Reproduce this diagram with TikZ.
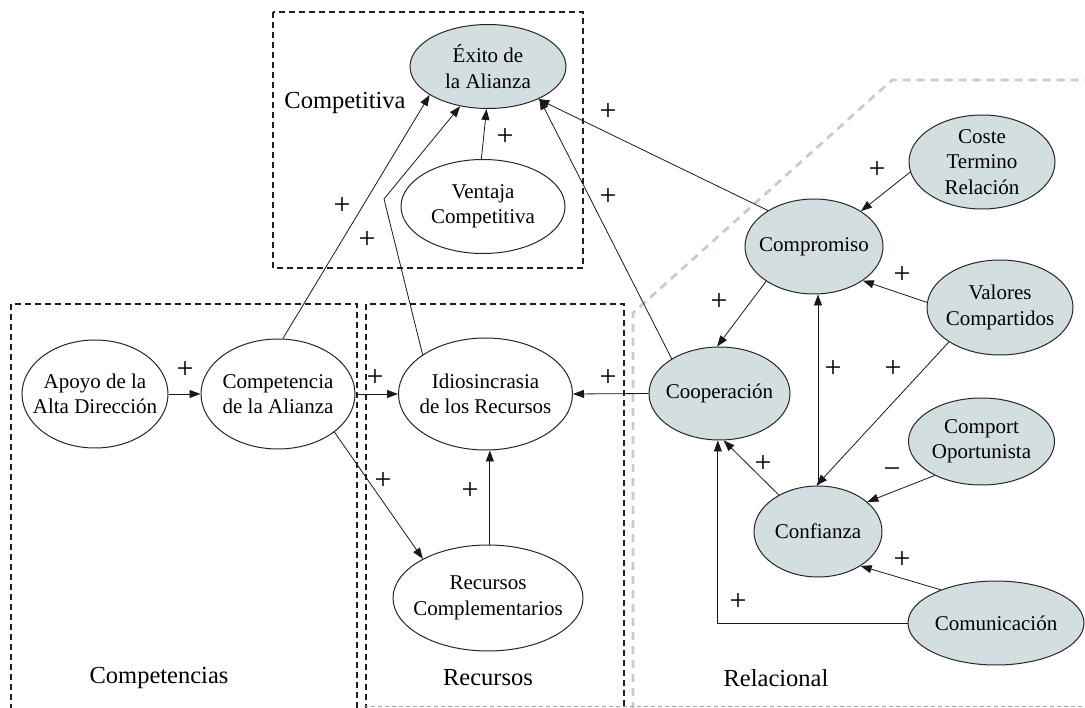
\documentclass[tikz,border=0pt]{standalone}
\usepackage{fontspec}
\setmainfont{Liberation Serif}
\usetikzlibrary{shapes.geometric,arrows.meta}
\definecolor{nodefill}{HTML}{D3DEE0}
\definecolor{regiongrey}{HTML}{BFD0D0}
\definecolor{boxblack}{HTML}{1E1E1E}
\begin{document}
\begin{tikzpicture}[x=1pt,y=-1pt,
  ellbase/.style={ellipse,draw=black!85,line width=1pt,inner xsep=-12pt,inner ysep=-4pt,align=center,font=\fontsize{21}{25.5}\selectfont},
  ellgrey/.style={ellbase,fill=nodefill},
  ellwhite/.style={ellbase,fill=white},
  arr/.style={-{Triangle[length=11pt,width=8pt]},line width=0.8pt,draw=black!90},
  signlbl/.style={font=\fontsize{30}{30}\selectfont,inner sep=0pt},
  regionlbl/.style={font=\fontsize{24.5}{28}\selectfont,inner sep=0pt},
  bbox/.style={draw=boxblack,line width=2.2pt,dash pattern=on 6pt off 4pt},
  gbox/.style={draw=regiongrey,line width=2.8pt,dash pattern=on 8pt off 6pt},
  gthin/.style={draw=black!35,line width=0.7pt,dash pattern=on 4pt off 3pt}
]
\useasboundingbox (0,0) rectangle (1085,708);

% region boxes
\draw[bbox] (273,12) rectangle (583,268);
\draw[bbox] (11,710) -- (11,304) -- (357,304) -- (357,710);
\draw[bbox] (366,710) -- (366,304) -- (624,304) -- (624,710);
\draw[gbox] (633,710) -- (633,313) -- (892,80) -- (1090,80);
\draw[gthin] (364,706) -- (1085,706);

% region labels
\node[regionlbl] (lcompetitiva) at (345,103) {Competitiva};
\node[regionlbl] (lcompetencias) at (159,678) {Competencias};
\node[regionlbl] (lrecursos) at (488,678) {Recursos};
\node[regionlbl] (lrelacional) at (776,678) {Relacional};

% nodes
\node[ellgrey,minimum width=156pt,minimum height=84pt] (exito) at (488,66.5) {Éxito de\\la Alianza};
\node[ellwhite,minimum width=164pt,minimum height=94pt] (ventaja) at (483,206.5) {Ventaja\\Competitiva};
\node[ellwhite,minimum width=146pt,minimum height=108pt] (apoyo) at (95,394) {Apoyo de la\\Alta Dirección};
\node[ellwhite,minimum width=154pt,minimum height=110pt] (compet) at (278,394) {Competencia\\de la Alianza};
\node[ellwhite,minimum width=174pt,minimum height=112pt] (idio) at (485.5,394) {Idiosincrasia\\de los Recursos};
\node[ellwhite,minimum width=190pt,minimum height=106pt] (recursos) at (488,598) {Recursos\\Complementarios};
\node[ellgrey,minimum width=138pt,minimum height=95pt] (compro) at (814,246.5) {Compromiso};
\node[ellgrey,minimum width=146pt,minimum height=94pt] (coste) at (982,162) {Coste\\Termino\\Relación};
\node[ellgrey,minimum width=146pt,minimum height=95pt] (valores) at (1000,307.5) {Valores\\Compartidos};
\node[ellgrey,minimum width=141pt,minimum height=93pt] (coop) at (719.5,393.5) {Cooperación};
\node[ellgrey,minimum width=146pt,minimum height=87pt] (comport) at (981.5,441.5) {Comport\\Oportunista};
\node[ellgrey,minimum width=128pt,minimum height=91pt] (confi) at (818,531.5) {Confianza};
\node[ellgrey,minimum width=176pt,minimum height=84pt] (comuni) at (996,623) {Comunicación};

% connectors
\coordinate (kink) at (384,199);
\draw[arr] (apoyo.east) -- (compet.west);
\draw[arr] (compet.east) -- (idio.west);
\draw[arr] (compet.85) -- (exito.206);
\draw[arr] (idio.148) -- (kink) -- (exito.235);
\draw[arr] (ventaja.92) -- (exito.268);
\draw[arr] (compro.142) -- (exito.327);
\draw[arr] (coop.144) -- (exito.328);
\draw[arr] (compet.326) -- (recursos.149);
\draw[arr] (recursos.88) -- (recursos.88 |- idio.south);
\draw[arr] (coop.west) -- (idio.east);
\draw[arr] (coste.188) -- (compro.37);
\draw[arr] (valores.176) -- (compro.325);
\draw[arr] (compro.216) -- (coop.93);
\draw[arr] (confi.north) -- (confi.north |- compro.south);
\draw[arr] (valores.214) -- (confi.92);
\draw[arr] (comport.216) -- (confi.31);
\draw[arr] (comuni.149) -- (confi.321);
\draw[arr] (confi.137) -- (coop.275);
\draw[arr] (comuni.west) -| (coop.268);

% signs
\node[signlbl] (p1) at (185,370) {+};
\node[signlbl] (p2) at (375,378) {+};
\node[signlbl] (p3) at (608,378) {+};
\node[signlbl] (p4) at (342,206) {+};
\node[signlbl] (p5) at (367,240) {+};
\node[signlbl] (p6) at (505,137) {+};
\node[signlbl] (p7) at (608,112) {+};
\node[signlbl] (p8) at (608,197) {+};
\node[signlbl] (p9) at (383,481) {+};
\node[signlbl] (p10) at (470,491) {+};
\node[signlbl] (p11) at (877,170) {+};
\node[signlbl] (p12) at (902,275) {+};
\node[signlbl] (p13) at (719,302) {+};
\node[signlbl] (p14) at (833,369) {+};
\node[signlbl] (p15) at (893,369) {+};
\node[signlbl] (p16) at (892,473) {−};
\node[signlbl] (p17) at (902,560) {+};
\node[signlbl] (p18) at (763,464) {+};
\node[signlbl] (p19) at (738,602) {+};
\end{tikzpicture}
\end{document}
